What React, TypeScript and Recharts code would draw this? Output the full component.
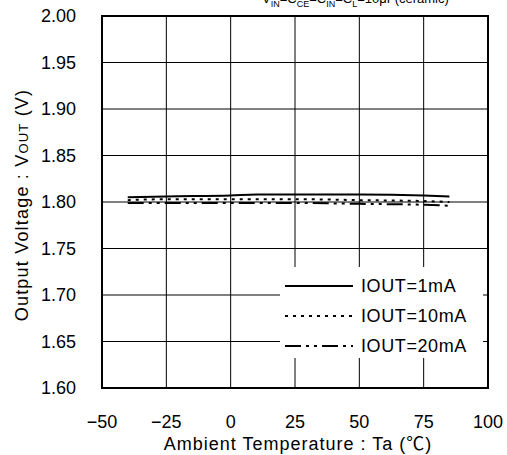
import { LineChart, Line, XAxis, YAxis, CartesianGrid, ReferenceArea } from 'recharts'

const temps = [-40, -25, 0, 10, 25, 50, 75, 85]
const iout1mA = [1.805, 1.806, 1.807, 1.808, 1.808, 1.808, 1.807, 1.806]
const iout10mA = [1.802, 1.803, 1.803, 1.803, 1.803, 1.802, 1.801, 1.8]
const iout20mA = [1.799, 1.799, 1.799, 1.799, 1.799, 1.798, 1.797, 1.796]
const xTicks = [-50, -25, 0, 25, 50, 75, 100]
const yTicks = [1.6, 1.65, 1.7, 1.75, 1.8, 1.85, 1.9, 1.95, 2.0]

const series = [
  { key: 'i1', label: 'IOUT=1mA', dash: undefined as string | undefined },
  { key: 'i10', label: 'IOUT=10mA', dash: '3 5' },
  { key: 'i20', label: 'IOUT=20mA', dash: '16 5 3 5 3 5' },
]

const data = temps.map((t, i) => ({
  t,
  i1: iout1mA[i],
  i10: iout10mA[i],
  i20: iout20mA[i],
}))

const font = '"Liberation Sans", "Noto Sans CJK JP", sans-serif'

// legend drawn on top of the grid, white box hides the lines under it
const LegendBox = () => (
  <div style={{ position: 'absolute', left: 280, top: 267, background: '#fff', width: 203, height: 91, fontFamily: font, fontSize: 18, color: '#000' }}>
    {series.map((s, i) => (
      <div key={s.key} style={{ position: 'absolute', left: 5, top: 7 + i * 30, display: 'flex', alignItems: 'center', height: 24 }}>
        <svg width={68} height={10}>
          <line x1={0} y1={5} x2={68} y2={5} stroke="#000" strokeWidth={2} strokeDasharray={s.dash} />
        </svg>
        <span style={{ marginLeft: 8, letterSpacing: 0.6 }}>{s.label}</span>
      </div>
    ))}
  </div>
)

export default function App() {
  return (
    <div style={{ position: 'absolute', left: 0, top: 0, width: 507, height: 455, background: '#fff', fontFamily: font, overflow: 'hidden' }}>
      <LineChart width={507} height={455} data={data} margin={{ top: 16, right: 19, bottom: 37, left: 42 }}>
        <CartesianGrid stroke="#000" strokeWidth={1} />
        <XAxis
          dataKey="t"
          type="number"
          domain={[-50, 100]}
          ticks={xTicks}
          height={30}
          tickLine={false}
          axisLine={false}
          tickMargin={21}
          tick={{ fill: '#000', fontSize: 18, fontFamily: font }}
          tickFormatter={(v: number) => (v < 0 ? `−${Math.abs(v)}` : `${v}`)}
        />
        <YAxis
          type="number"
          domain={[1.6, 2.0]}
          ticks={yTicks}
          width={60}
          tickLine={false}
          axisLine={false}
          tickMargin={20}
          tick={{ fill: '#000', fontSize: 18, fontFamily: font }}
          tickFormatter={(v: number) => v.toFixed(2)}
        />
        <ReferenceArea x1={-50} x2={100} y1={1.6} y2={2.0} fill="none" stroke="#000" strokeWidth={2} />
        {series.map((s) => (
          <Line
            key={s.key}
            dataKey={s.key}
            stroke="#000"
            strokeWidth={2}
            strokeDasharray={s.dash}
            dot={false}
            type="monotone"
            isAnimationActive={false}
          />
        ))}
      </LineChart>
      <LegendBox />
      <div style={{ position: 'absolute', left: 262, top: -9, fontSize: 13, color: '#000', whiteSpace: 'nowrap' }}>
        V<sub style={{ fontSize: 9 }}>IN</sub>=C<sub style={{ fontSize: 9 }}>CE</sub>=C<sub style={{ fontSize: 9 }}>IN</sub>=C<sub style={{ fontSize: 9 }}>L</sub>=10μF(ceramic)
      </div>
      <div
        style={{
          position: 'absolute',
          left: 22,
          top: 205,
          transform: 'translate(-50%, -50%) rotate(-90deg)',
          fontSize: 18,
          letterSpacing: 1.2,
          whiteSpace: 'nowrap',
          color: '#000',
        }}
      >
        Output Voltage : V<span style={{ fontSize: 13 }}>OUT</span> (V)
      </div>
      <div style={{ position: 'absolute', left: 298, top: 442, transform: 'translate(-50%, -50%)', fontSize: 18, letterSpacing: 1, whiteSpace: 'nowrap', color: '#000' }}>
        Ambient Temperature : Ta (℃)
      </div>
    </div>
  )
}
